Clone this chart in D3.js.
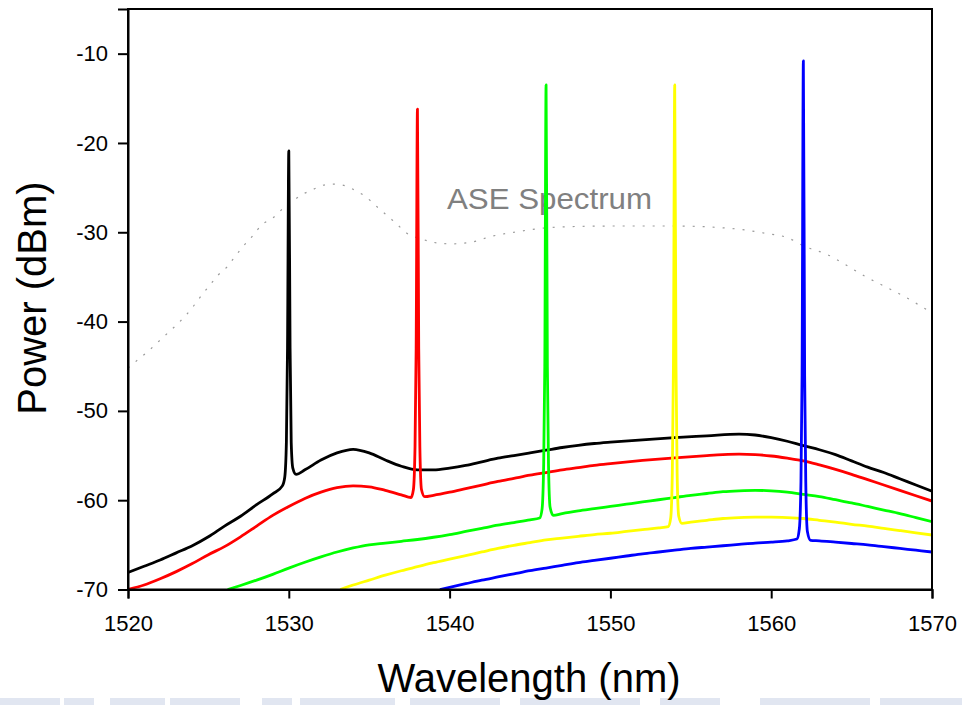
<!DOCTYPE html>
<html>
<head>
<meta charset="utf-8">
<script src="https://cdn.jsdelivr.net/npm/d3@7/dist/d3.min.js"></script>
<style>
  html, body { margin: 0; padding: 0; background: #ffffff; }
  svg { display: block; }
</style>
</head>
<body>
<svg id="chart" width="962" height="705"></svg>
<script>
// ---- data ----
const xTicks = [1520, 1530, 1540, 1550, 1560, 1570];
const yTicks = [-70, -60, -50, -40, -30, -20, -10];
const seriesNames = ["black", "red", "green", "yellow", "blue"];
const seriesColors = ["#000000", "#ff0000", "#00ff00", "#ffff00", "#0000ff"];

const aseSpectrum = [[1520,-45.2],[1520.6,-44.3],[1521.2,-43.4],[1521.8,-42.4],[1522.4,-41.4],[1523,-40.4],[1523.6,-39.3],[1524.1,-38.2],[1524.6,-37.0],[1525.1,-35.9],[1525.6,-34.8],[1526.2,-33.8],[1526.7,-32.6],[1527.2,-31.5],[1527.8,-30.3],[1528.3,-29.2],[1529,-28.4],[1529.6,-27.4],[1530.2,-26.6],[1530.8,-25.8],[1531.4,-25.3],[1532,-24.8],[1532.7,-24.6],[1533.3,-24.7],[1533.9,-25.1],[1534.6,-25.8],[1535.1,-26.5],[1535.7,-27.5],[1536.3,-28.4],[1536.9,-29.4],[1537.5,-30.3],[1538.2,-30.7],[1538.9,-31.1],[1540.1,-31.3],[1541.4,-31.1],[1542.5,-30.5],[1544,-30.0],[1545.5,-29.6],[1547,-29.4],[1550,-29.3],[1554,-29.3],[1557,-29.5],[1558.2,-29.7],[1559.6,-30.1],[1561,-30.6],[1562.1,-31.6],[1563.5,-32.5],[1564.6,-33.6],[1565.8,-34.9],[1567.1,-36.1],[1568.4,-37.3],[1569.7,-38.7],[1570,-39.0]];

const blackSeries = [[1520,-68.1],[1521,-67.4],[1522,-66.7],[1523,-65.9],[1524,-65.1],[1525,-64.1],[1526,-62.9],[1527,-61.8],[1528,-60.5],[1529,-59.3],[1529.6,-58.4],[1529.75,-57.4],[1529.85,-53.5],[1529.92,-43],[1530,-20.9],[1530.08,-43],[1530.15,-53.5],[1530.25,-56.4],[1530.45,-57.1],[1531,-56.6],[1532,-55.5],[1533,-54.7],[1534,-54.3],[1535,-54.7],[1536,-55.5],[1537,-56.2],[1538,-56.6],[1539,-56.6],[1540,-56.4],[1541,-56.1],[1542,-55.7],[1543,-55.3],[1544,-55.0],[1545,-54.7],[1546,-54.4],[1547,-54.1],[1548,-53.85],[1549,-53.65],[1550,-53.5],[1552,-53.25],[1554,-53.0],[1556,-52.8],[1558,-52.6],[1559,-52.7],[1560,-53.0],[1561,-53.4],[1562,-53.9],[1563,-54.35],[1564,-54.9],[1565,-55.6],[1566,-56.3],[1567,-56.9],[1568,-57.6],[1569,-58.3],[1570,-59.0]];

const redSeries = [[1520,-70],[1521,-69.5],[1522,-68.8],[1523,-68.0],[1524,-67.1],[1525,-66.1],[1526,-65.2],[1527,-64.1],[1528,-62.9],[1529,-61.7],[1530,-60.7],[1531,-59.8],[1532,-59.1],[1533,-58.6],[1534,-58.4],[1535,-58.5],[1536,-58.9],[1537,-59.4],[1537.6,-59.7],[1537.75,-58.8],[1537.85,-54],[1537.92,-43],[1538,-16.2],[1538.08,-43],[1538.15,-54],[1538.25,-58.8],[1538.45,-59.6],[1539,-59.45],[1540,-59.1],[1541,-58.7],[1542,-58.3],[1543,-57.9],[1544,-57.55],[1545,-57.2],[1546,-56.9],[1547,-56.6],[1548,-56.35],[1549,-56.1],[1550,-55.9],[1552,-55.55],[1554,-55.25],[1556,-55.0],[1557,-54.9],[1558,-54.85],[1559,-54.9],[1560,-55.05],[1561,-55.3],[1562,-55.6],[1563,-56.05],[1564,-56.55],[1565,-57.1],[1566,-57.7],[1567,-58.3],[1568,-58.9],[1569,-59.5],[1570,-60.1]];

const greenSeries = [[1526.2,-70],[1527,-69.55],[1528,-68.95],[1529,-68.3],[1530,-67.6],[1531,-66.95],[1532,-66.35],[1533,-65.8],[1534,-65.35],[1535,-65.0],[1536,-64.8],[1537,-64.6],[1538,-64.4],[1539,-64.15],[1540,-63.85],[1541,-63.5],[1542,-63.15],[1543,-62.8],[1544,-62.5],[1545,-62.2],[1545.6,-62.0],[1545.75,-61.0],[1545.85,-56],[1545.92,-45],[1546,-13.5],[1546.08,-45],[1546.15,-56],[1546.25,-60.8],[1546.45,-61.7],[1547,-61.5],[1548,-61.2],[1549,-60.95],[1550,-60.7],[1551,-60.45],[1552,-60.2],[1553,-59.95],[1554,-59.7],[1555,-59.45],[1556,-59.25],[1557,-59.05],[1558,-58.95],[1559,-58.9],[1560,-58.95],[1561,-59.1],[1562,-59.35],[1563,-59.6],[1564,-59.95],[1565,-60.3],[1566,-60.7],[1567,-61.1],[1568,-61.5],[1569,-61.95],[1570,-62.4]];

const yellowSeries = [[1533.2,-70],[1534,-69.5],[1535,-68.95],[1536,-68.4],[1537,-67.9],[1538,-67.45],[1539,-67.0],[1540,-66.6],[1541,-66.2],[1542,-65.8],[1543,-65.4],[1544,-65.05],[1545,-64.75],[1546,-64.45],[1547,-64.25],[1548,-64.05],[1549,-63.85],[1550,-63.7],[1551,-63.5],[1552,-63.3],[1553,-63.1],[1553.6,-62.95],[1553.75,-62.0],[1553.85,-57],[1553.92,-45],[1554,-13.5],[1554.08,-45],[1554.15,-57],[1554.25,-61.8],[1554.45,-62.6],[1555,-62.45],[1556,-62.25],[1557,-62.05],[1558,-61.95],[1559,-61.9],[1560,-61.9],[1561,-61.95],[1562,-62.05],[1563,-62.25],[1564,-62.45],[1565,-62.7],[1566,-62.9],[1567,-63.15],[1568,-63.4],[1569,-63.65],[1570,-63.9]];

const blueSeries = [[1539.4,-70],[1540,-69.75],[1541,-69.35],[1542,-68.95],[1543,-68.6],[1544,-68.25],[1545,-67.9],[1546,-67.6],[1547,-67.3],[1548,-67.0],[1549,-66.75],[1550,-66.5],[1551,-66.25],[1552,-66.0],[1553,-65.8],[1554,-65.6],[1555,-65.4],[1556,-65.25],[1557,-65.1],[1558,-64.95],[1559,-64.8],[1560,-64.7],[1561,-64.55],[1561.6,-64.35],[1561.75,-63.2],[1561.85,-58],[1561.92,-46],[1562,-10.8],[1562.08,-46],[1562.15,-58],[1562.25,-63.5],[1562.45,-64.5],[1563,-64.55],[1564,-64.7],[1565,-64.85],[1566,-65.0],[1567,-65.2],[1568,-65.4],[1569,-65.6],[1570,-65.8]];

const allSeries = [blackSeries, redSeries, greenSeries, yellowSeries, blueSeries];

// ---- layout ----
(function () {
const svg = d3.select("#chart");
const mLeft = 128, mRight = 932, mTop = 9, mBottom = 589.5;
const x = d3.scaleLinear().domain([1520, 1570]).range([mLeft, mRight]);
const y = d3.scaleLinear().domain([-70, -5]).range([mBottom, mTop]);

// faint slide-background strip at the very bottom
const strip = [[0,60],[64,30],[110,55],[170,70],[262,30],[300,95],[410,90],[520,120],[660,60],[760,110],[880,82]];
svg.append("g").selectAll("rect").data(strip).join("rect")
  .attr("x", d => d[0]).attr("width", d => d[1])
  .attr("y", 698).attr("height", 7)
  .attr("fill", "#c9d2e6").attr("opacity", 0.55);

svg.append("defs").append("clipPath").attr("id", "plotclip")
  .append("rect").attr("x", mLeft).attr("y", mTop).attr("width", mRight - mLeft).attr("height", mBottom - mTop);

// ASE label
svg.append("text")
  .attr("x", 447).attr("y", 208.5)
  .attr("font-family", "Liberation Sans, Arial, sans-serif")
  .attr("font-size", 29).attr("fill", "#808080")
  .attr("textLength", 205).attr("lengthAdjust", "spacingAndGlyphs")
  .text("ASE Spectrum");

const line = d3.line().x(d => x(d[0])).y(d => y(d[1])).curve(d3.curveMonotoneX);

const plot = svg.append("g").attr("clip-path", "url(#plotclip)");

plot.append("path").datum(aseSpectrum)
  .attr("d", line).attr("fill", "none")
  .attr("stroke", "#9a9a9a").attr("stroke-width", 1.2)
  .attr("stroke-dasharray", "2,8");

plot.selectAll("path.series").data(allSeries).join("path")
  .attr("class", "series")
  .attr("d", line).attr("fill", "none")
  .attr("stroke", (d, i) => seriesColors[i])
  .attr("stroke-width", 2.8)
  .attr("stroke-linejoin", "round");

// frame
svg.append("rect").attr("x", mLeft).attr("y", mTop).attr("width", mRight - mLeft).attr("height", mBottom - mTop)
  .attr("fill", "none").attr("stroke", "#000").attr("stroke-width", 2);

// axes
const fmt = d => String(d);
const xAxis = d3.axisBottom(x).tickValues(xTicks).tickSize(9).tickPadding(17).tickFormat(fmt);
const gx = svg.append("g").attr("transform", `translate(0,${mBottom})`).call(xAxis);
gx.select(".domain").attr("stroke-width", 2);
gx.selectAll(".tick line").attr("stroke-width", 2);
gx.selectAll(".tick text").attr("font-family", "Liberation Sans, Arial, sans-serif").attr("font-size", 22).attr("fill", "#000");

const yAxis = d3.axisLeft(y).tickValues(yTicks).tickSize(10).tickPadding(10).tickFormat(fmt);
const gy = svg.append("g").attr("transform", `translate(${mLeft},0)`).call(yAxis);
gy.select(".domain").attr("stroke-width", 2);
gy.selectAll(".tick line").attr("stroke-width", 2);
gy.selectAll(".tick text").attr("font-family", "Liberation Sans, Arial, sans-serif").attr("font-size", 22).attr("fill", "#000");

// axis titles
svg.append("text")
  .attr("x", 529).attr("y", 692).attr("text-anchor", "middle")
  .attr("font-family", "Liberation Sans, Arial, sans-serif").attr("font-size", 40).attr("fill", "#000")
  .text("Wavelength (nm)");

svg.append("text")
  .attr("transform", "translate(46,298) rotate(-90)").attr("text-anchor", "middle")
  .attr("font-family", "Liberation Sans, Arial, sans-serif").attr("font-size", 40).attr("fill", "#000")
  .text("Power (dBm)");
})();
</script>
</body>
</html>
